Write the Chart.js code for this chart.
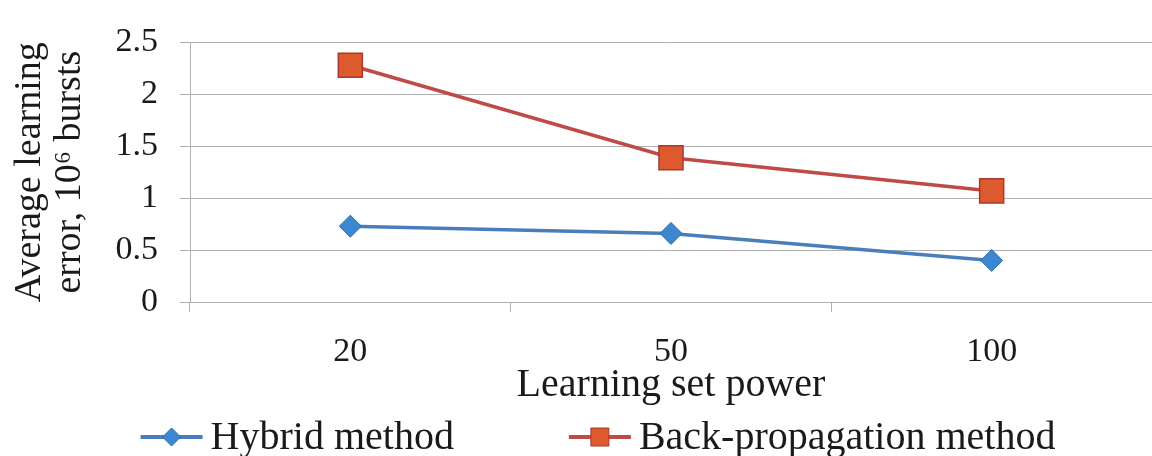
<!DOCTYPE html>
<html>
<head>
<meta charset="utf-8">
<script src="https://cdn.jsdelivr.net/npm/chart.js@4.4.1/dist/chart.umd.min.js"></script>
<style>
  body { margin: 0; background: #fff; }
  #wrap { width: 1152px; height: 456px; }
</style>
</head>
<body>
<div id="wrap"><canvas id="myChart" width="1152" height="456"></canvas></div>
<script>
const CATEGORIES = ['20', '50', '100'];
const HYBRID = [0.73, 0.66, 0.40];
const BACKPROP = [2.28, 1.39, 1.07];
const SERIES_NAMES = ['Hybrid method', 'Back-propagation method'];
const Y_TICKS = [0, 0.5, 1, 1.5, 2, 2.5];
const X_TITLE = 'Learning set power';
const Y_TITLE = ['Average learning', 'error, 10\u2076 bursts'];

const FONT = '"Liberation Serif", "Times New Roman", serif';
const GRID = '#b0b0b0';
const TEXT = '#1a1a1a';

// legend drawn by hand: line + marker + text, like the office chart
const bottomLegend = {
  id: 'bottomLegend',
  afterDraw(chart) {
    const ctx = chart.ctx;
    const y = chart.height - 19;
    const lineLen = 62, gap = 8, itemGap = 115;
    ctx.save();
    ctx.font = '40px ' + FONT;
    ctx.textBaseline = 'middle';
    ctx.textAlign = 'left';
    const items = chart.data.datasets.map(ds => ({ds: ds, w: lineLen + gap + ctx.measureText(ds.label).width}));
    const total = items.reduce((s, it) => s + it.w, 0) + itemGap * (items.length - 1);
    let x = (chart.width - total) / 2 + 22;
    items.forEach(it => {
      const ds = it.ds;
      ctx.strokeStyle = ds.borderColor;
      ctx.lineWidth = 4;
      ctx.beginPath();
      ctx.moveTo(x, y);
      ctx.lineTo(x + lineLen, y);
      ctx.stroke();
      const cx = x + lineLen / 2;
      ctx.fillStyle = ds.pointBackgroundColor;
      ctx.strokeStyle = ds.pointBorderColor;
      ctx.lineWidth = 1;
      ctx.beginPath();
      if (ds.pointStyle === 'rect') {
        ctx.rect(cx - 9, y - 9, 18, 18);
      } else {
        ctx.moveTo(cx - 9, y);
        ctx.lineTo(cx, y - 9);
        ctx.lineTo(cx + 9, y);
        ctx.lineTo(cx, y + 9);
        ctx.closePath();
      }
      ctx.fill();
      ctx.stroke();
      ctx.fillStyle = TEXT;
      ctx.fillText(ds.label, x + lineLen + gap, y + 1);
      x += it.w + itemGap;
    });
    ctx.restore();
  }
};

const data = {
  labels: CATEGORIES,
  datasets: [{
    label: SERIES_NAMES[0],
    data: HYBRID,
    borderColor: '#4a7ebb',
    borderWidth: 3.5,
    pointStyle: 'rectRot',
    pointRadius: 11,
    pointBackgroundColor: '#3c87d2',
    pointBorderColor: '#2f6aa8',
    pointBorderWidth: 1,
    tension: 0
  }, {
    label: SERIES_NAMES[1],
    data: BACKPROP,
    borderColor: '#be4b48',
    borderWidth: 3.5,
    pointStyle: 'rect',
    pointRadius: 17,
    pointBackgroundColor: '#dc5a2e',
    pointBorderColor: '#a8382f',
    pointBorderWidth: 1.5,
    tension: 0
  }]
};

const config = {
  type: 'line',
  data: data,
  plugins: [bottomLegend],
  options: {
    responsive: false,
    animation: false,
    layout: {
      autoPadding: false,
      padding: {top: 40, right: 0, bottom: 50, left: 0}
    },
    plugins: {
      legend: {display: false},
      tooltip: {enabled: false}
    },
    scales: {
      x: {
        offset: true,
        afterFit: (scale) => {
          scale.height = 104;
          scale.paddingLeft = 0;
          scale.paddingRight = 0;
        },
        grid: {
          offset: true,
          drawOnChartArea: false,
          drawTicks: true,
          tickLength: 10,
          color: GRID
        },
        border: {color: GRID},
        ticks: {
          color: TEXT,
          padding: 20,
          font: {family: FONT, size: 34}
        },
        title: {
          display: true,
          text: X_TITLE,
          color: TEXT,
          padding: {top: 0, bottom: 1},
          font: {family: FONT, size: 40, lineHeight: 1}
        }
      },
      y: {
        min: Y_TICKS[0],
        max: Y_TICKS[Y_TICKS.length - 1],
        afterFit: (scale) => {
          scale.width = 190;
        },
        grid: {
          color: GRID,
          tickLength: 10
        },
        border: {color: GRID},
        ticks: {
          stepSize: Y_TICKS[1] - Y_TICKS[0],
          color: TEXT,
          padding: 22,
          font: {family: FONT, size: 34},
          callback: (value) => String(value)
        },
        title: {
          display: true,
          text: Y_TITLE,
          color: TEXT,
          padding: {top: 10, bottom: 0},
          font: {family: FONT, size: 38, lineHeight: 1.05}
        }
      }
    }
  }
};

const myChart = new Chart(document.getElementById('myChart'), config);
</script>
</body>
</html>
